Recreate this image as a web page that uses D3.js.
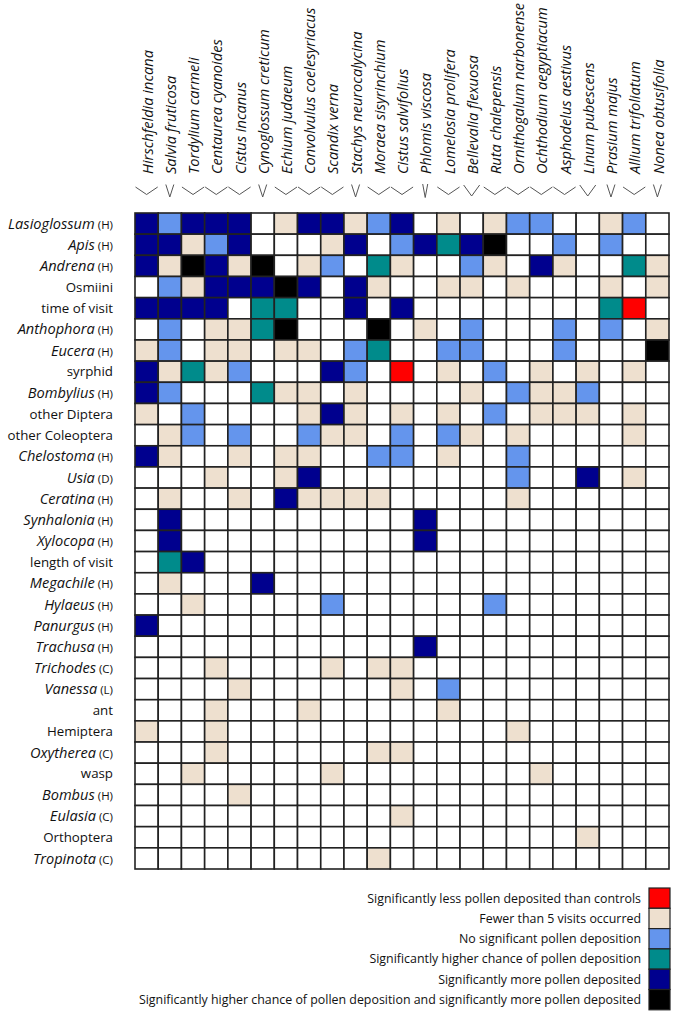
<!DOCTYPE html>
<html>
<head>
<meta charset="utf-8">
<script src="https://cdn.jsdelivr.net/npm/d3@7"></script>
<style>
  html, body { margin: 0; padding: 0; background: #fff; }
  svg { display: block; }
  text { font-family: "Open Sans", "Noto Sans", sans-serif; fill: #111; }
</style>
</head>
<body>
<div id="chart"></div>
<script>
// ---- DATA ----
const plants = [
  "Hirschfeldia incana", "Salvia fruticosa", "Tordylium carmeli", "Centaurea cyanoides",
  "Cistus incanus", "Cynoglossum creticum", "Echium judaeum", "Convolvulus coelesyriacus",
  "Scandix verna", "Stachys neurocalycina", "Moraea sisyrinchium", "Cistus salvifolius",
  "Phlomis viscosa", "Lomelosia prolifera", "Bellevalia flexuosa", "Ruta chalepensis",
  "Ornithogalum narbonense", "Ochthodium aegyptiacum", "Asphodelus aestivus",
  "Linum pubescens", "Prasium majus", "Allium trifoliatum", "Nonea obtusifolia"
];
// flower shape symbol under each plant name
const flowerShape = [
  "open", "tube", "open", "open", "open", "tube", "open", "open", "open", "tube",
  "open", "open", "narrow", "open", "funnel", "open", "open", "open", "open",
  "funnel", "tube", "open", "tube"
];
const visitors = [
  "Lasioglossum", "Apis", "Andrena", "Osmiini", "time of visit", "Anthophora", "Eucera",
  "syrphid", "Bombylius", "other Diptera", "other Coleoptera", "Chelostoma", "Usia",
  "Ceratina", "Synhalonia", "Xylocopa", "length of visit", "Megachile", "Hylaeus",
  "Panurgus", "Trachusa", "Trichodes", "Vanessa", "ant", "Hemiptera", "Oxytherea",
  "wasp", "Bombus", "Eulasia", "Orthoptera", "Tropinota"
];
// taxon order code shown after genus names ("" = none, plain label)
const visitorOrder = [
  "H", "H", "H", "", "", "H", "H", "", "H", "", "", "H", "D", "H", "H", "H", "", "H", "H",
  "H", "H", "C", "L", "", "", "C", "", "H", "C", "", "C"
];
// outcome categories
const categoryCodes = ["R", "F", "N", "C", "M", "B"];
const categoryLabels = [
  "Significantly less pollen deposited than controls",
  "Fewer than 5 visits occurred",
  "No significant pollen deposition",
  "Significantly higher chance of pollen deposition",
  "Significantly more pollen deposited",
  "Significantly higher chance of pollen deposition and significantly more pollen deposited"
];
const categoryColors = ["#ff0000", "#eee0cf", "#6495ed", "#008b8b", "#00008e", "#000000"];
// one string per visitor row, one character per plant column ("." = no visits)
const outcomes = [
  "MNMMM.FMMFNM.F.FNN..FN.",
  "MMFNM...FM.NMCMB..N.N..",
  "MFBMFB.FN.CF..NF.MF..CF",
  ".NFMMMBM.MF..FF.F...F.F",
  "MMMM.CC..M.M........CR.",
  ".N.FFCB...B.F.N...N.N.F",
  "FN.FF.FF.NC..NN...N...B",
  "MFCFN...MN.R.F.N.F.F.F.",
  "MN...CFF.F....F.NFFN...",
  "F.N....FMF.F.F.N.FFF.F.",
  ".FN.N..NFF.N.NF.F....F.",
  "MF..F.FF..NN.F..N......",
  "...F..FM........N..M.F.",
  ".F..F.MFFFF.....F......",
  ".M..........M..........",
  ".M..........M..........",
  ".CM....................",
  ".F...M.................",
  "..F.....N......N.......",
  "M......................",
  "............M..........",
  "...F....F.FF...........",
  "....F......F.N.........",
  "...F...F.....F.........",
  "F..F............F......",
  "...F......FF...........",
  "..F.....F........F.....",
  "....F..................",
  "...........F...........",
  "...................F...",
  "..........F............"
];

// ---- LAYOUT ----
const W = 675, H = 1016;
const svg = d3.select("#chart").append("svg").attr("width", W).attr("height", H);

const x = d3.scaleBand().domain(plants).range([135, 669]).padding(0);
const y = d3.scaleBand().domain(visitors).range([213, 869]).padding(0);
const color = d3.scaleOrdinal().domain(categoryCodes).range(categoryColors).unknown("#ffffff");

const cells = [];
visitors.forEach((v, i) => {
  outcomes[i].split("").forEach((c, j) => cells.push({ v, p: plants[j], c }));
});

svg.append("g").selectAll("rect").data(cells).join("rect")
  .attr("x", d => x(d.p)).attr("y", d => y(d.v))
  .attr("width", x.bandwidth()).attr("height", y.bandwidth())
  .attr("fill", d => color(d.c))
  .attr("stroke", "#222").attr("stroke-width", 1.6);

// row labels
const rowG = svg.append("g");
visitors.forEach((v, i) => {
  const t = rowG.append("text")
    .attr("x", 113).attr("y", y(v) + y.bandwidth() / 2)
    .attr("dy", "0.35em").attr("text-anchor", "end");
  if (visitorOrder[i]) {
    t.style("font-size", "14.6px");
    t.append("tspan").style("font-style", "italic").text(v);
    t.append("tspan").style("font-size", "11.5px").text(" (" + visitorOrder[i] + ")");
  } else {
    t.style("font-size", "13.3px").text(v);
  }
});

// column labels
svg.append("g").selectAll("text").data(plants).join("text")
  .attr("transform", d => `translate(${x(d) + x.bandwidth() / 2 + 1},174) rotate(-90)`)
  .attr("dy", "0.35em")
  .attr("text-anchor", "start")
  .style("font-style", "italic").style("font-size", "14.6px")
  .text(d => d);

// flower shape symbols
const symG = svg.append("g").attr("fill", "none").attr("stroke", "#555").attr("stroke-width", 1);
plants.forEach((p, j) => {
  const s = flowerShape[j];
  const x0 = x(p), bw = x.bandwidth(), cx = x0 + bw / 2;
  let path;
  if (s === "open") {
    path = `M${x0 + 0.5},187 L${cx},194.5 L${x0 + bw - 0.5},187`;
  } else if (s === "funnel") {
    path = `M${cx - 8},185 L${cx},196 L${cx + 8},185`;
  } else if (s === "tube") {
    path = `M${cx - 4},184.5 L${cx},197 L${cx + 4},184.5`;
  } else {
    path = `M${cx - 2.5},184 L${cx},197.5 L${cx + 2.5},184`;
  }
  symG.append("path").attr("d", path);
});

// legend
const lg = svg.append("g");
categoryLabels.forEach((lab, i) => {
  const yy = 888 + i * 20.3;
  lg.append("rect").attr("x", 649).attr("y", yy).attr("width", 21).attr("height", 20.3)
    .attr("fill", categoryColors[i]).attr("stroke", "#222").attr("stroke-width", 1.2);
  lg.append("text").attr("x", 641).attr("y", yy + 10.2).attr("dy", "0.35em")
    .attr("text-anchor", "end").style("font-size", "12.4px").text(lab);
});
</script>
</body>
</html>
